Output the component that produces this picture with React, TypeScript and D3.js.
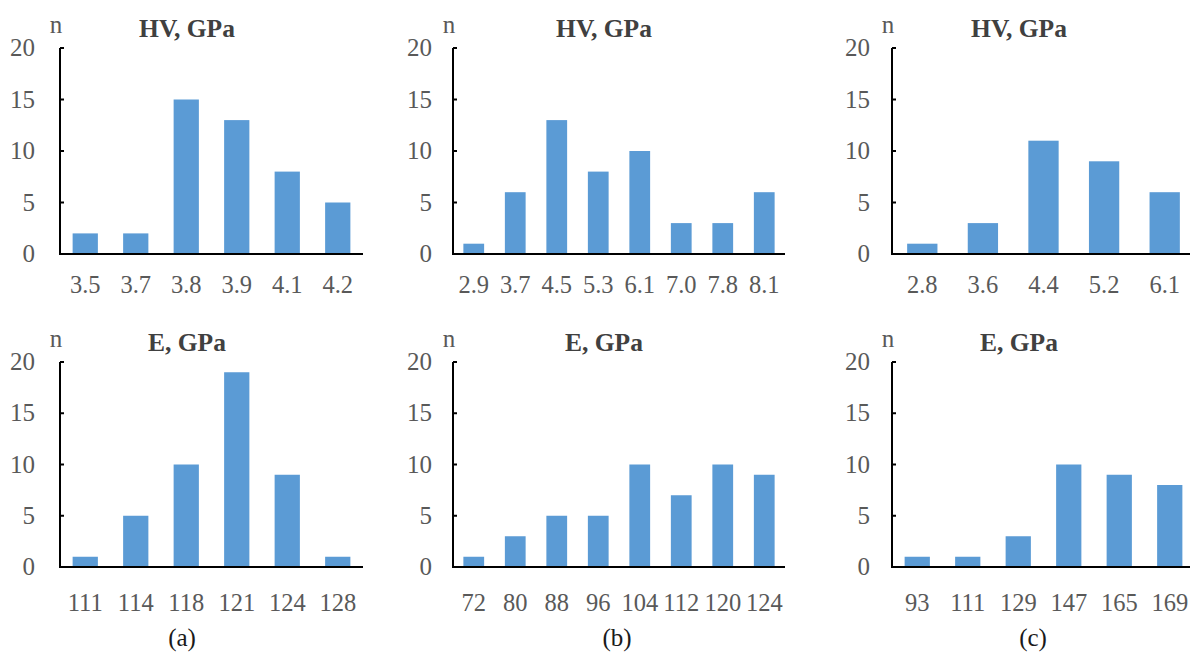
import React from "react";
import * as d3 from "d3";

// ---- Data ----
const hvCatsA = ["3.5", "3.7", "3.8", "3.9", "4.1", "4.2"];
const hvValsA = [2, 2, 15, 13, 8, 5];
const hvCatsB = ["2.9", "3.7", "4.5", "5.3", "6.1", "7.0", "7.8", "8.1"];
const hvValsB = [1, 6, 13, 8, 10, 3, 3, 6];
const hvCatsC = ["2.8", "3.6", "4.4", "5.2", "6.1"];
const hvValsC = [1, 3, 11, 9, 6];

const eCatsA = ["111", "114", "118", "121", "124", "128"];
const eValsA = [1, 5, 10, 19, 9, 1];
const eCatsB = ["72", "80", "88", "96", "104", "112", "120", "124"];
const eValsB = [1, 3, 5, 5, 10, 7, 10, 9];
const eCatsC = ["93", "111", "129", "147", "165", "169"];
const eValsC = [1, 1, 3, 10, 9, 8];

const yTicks = [0, 5, 10, 15, 20];
const titles = ["HV, GPa", "E, GPa"];
const panelLabels = ["(a)", "(b)", "(c)"];

const FONT = "Liberation Serif, Times New Roman, serif";
const BAR = "#5B9BD5";

type PanelProps = {
  cats: string[];
  vals: number[];
  x0: number;
  x1: number;
  y0: number;
  y1: number;
  title: string;
  titleX: number;
  labelY: number;
  gap: number;
};

const txt = (size: number, color: string, bold = false): React.CSSProperties => ({
  fontFamily: FONT,
  fontSize: size,
  fill: color,
  fontWeight: bold ? "bold" : "normal",
});

function Panel({ cats, vals, x0, x1, y0, y1, title, titleX, labelY, gap }: PanelProps) {
  const x = d3.scaleBand<string>().domain(cats).range([x0, x1]).paddingInner(0.5).paddingOuter(0.25);
  const y = d3.scaleLinear().domain([0, 20]).range([y0, y1]);
  return (
    <g>
      {vals.map((v, i) => (
        <rect
          key={i}
          x={x(cats[i])}
          y={y(v)}
          width={x.bandwidth()}
          height={y(0) - y(v)}
          fill={BAR}
        />
      ))}
      <line x1={x0} x2={x0} y1={y(0)} y2={y(20)} stroke="#000" strokeWidth={2} />
      {yTicks.map((t) => (
        <g key={t}>
          <line x1={x0} x2={x0 + 4} y1={y(t)} y2={y(t)} stroke="#000" strokeWidth={2} />
          <text x={x0 - gap} y={y(t) + 8} textAnchor="end" style={txt(25, "#595959")}>
            {t}
          </text>
        </g>
      ))}
      <line x1={x0 - 1} x2={x1} y1={y(0)} y2={y(0)} stroke="#000" strokeWidth={2} />
      {cats.map((c) => (
        <text
          key={c}
          x={(x(c) as number) + x.bandwidth() / 2}
          y={labelY}
          textAnchor="middle"
          style={txt(24.5, "#595959")}
        >
          {c}
        </text>
      ))}
      <text x={x0 - 4} y={y(20) - 15} textAnchor="middle" style={txt(25, "#595959")}>
        n
      </text>
      <text x={titleX} y={y(20) - 11} textAnchor="middle" style={txt(25.5, "#404040", true)}>
        {title}
      </text>
    </g>
  );
}

export default function App() {
  const cols = [
    { x0: 60, x1: 363, tx: 187, lx: 182, gap: 25 },
    { x0: 453, x1: 785, tx: 604, lx: 617, gap: 21 },
    { x0: 892, x1: 1195, tx: 1019, lx: 1033, gap: 22 },
  ];
  const top = [
    { cats: hvCatsA, vals: hvValsA },
    { cats: hvCatsB, vals: hvValsB },
    { cats: hvCatsC, vals: hvValsC },
  ];
  const bottom = [
    { cats: eCatsA, vals: eValsA },
    { cats: eCatsB, vals: eValsB },
    { cats: eCatsC, vals: eValsC },
  ];
  return (
    <svg width={1190} height={653} style={{ position: "absolute", left: 0, top: 0, background: "#fff" }}>
      <rect width={1190} height={653} fill="#fff" />
      {top.map((p, i) => (
        <Panel
          key={"t" + i}
          cats={p.cats}
          vals={p.vals}
          x0={cols[i].x0}
          x1={cols[i].x1}
          y0={254}
          y1={48}
          title={titles[0]}
          titleX={cols[i].tx}
          labelY={293}
          gap={cols[i].gap}
        />
      ))}
      {bottom.map((p, i) => (
        <Panel
          key={"b" + i}
          cats={p.cats}
          vals={p.vals}
          x0={cols[i].x0}
          x1={cols[i].x1}
          y0={567}
          y1={362}
          title={titles[1]}
          titleX={cols[i].tx}
          labelY={611}
          gap={cols[i].gap}
        />
      ))}
      {panelLabels.map((l, i) => (
        <text key={l} x={cols[i].lx} y={646} textAnchor="middle" style={txt(25, "#1a1a1a")}>
          {l}
        </text>
      ))}
    </svg>
  );
}
